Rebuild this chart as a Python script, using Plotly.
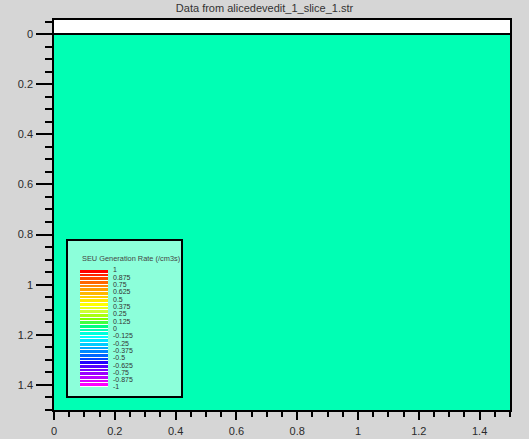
import plotly.graph_objects as go

# ---- data ----
title_text = "Data from alicedevedit_1_slice_1.str"
x_edges = [0.0, 1.5]          # structure extent (microns)
y_edges = [0.0, 1.5]
seu_rate = [[0.0]]            # SEU generation rate is zero everywhere

legend_title = "SEU Generation Rate (/cm3s)"
legend_levels = [1, 0.875, 0.75, 0.625, 0.5, 0.375, 0.25, 0.125, 0,
                 -0.125, -0.25, -0.375, -0.5, -0.625, -0.75, -0.875, -1]
legend_labels = ["1", "0.875", "0.75", "0.625", "0.5", "0.375", "0.25", "0.125", "0",
                 "-0.125", "-0.25", "-0.375", "-0.5", "-0.625", "-0.75", "-0.875", "-1"]
swatch_colors = ["#FF0000", "#FF2200", "#FF4400", "#FF6600", "#FF8800", "#FF9F00",
                 "#FFB800", "#FFCF00", "#FFE800", "#FFFF00", "#E8FF1A", "#CCFF33",
                 "#A8FF10", "#80FF00", "#40FF40", "#00FF80", "#00FFB4", "#00FFDC",
                 "#00FFFF", "#00E6FF", "#00CCFF", "#00AAFF", "#0088FF", "#0066FF",
                 "#0044FF", "#2200FF", "#5500FF", "#7700FF", "#9900FF", "#BB00FF",
                 "#DD00FF", "#FF00FF"]

MINT = "#00FFB4"
LEG_BG = "#8CFFDA"

# swatch edges: two bars between each pair of levels
sw_edges = []
for a, b in zip(legend_levels[:-1], legend_levels[1:]):
    sw_edges += [a, (a + b) / 2]
sw_edges.append(legend_levels[-1])
sw_z = [[i + 0.5] for i in range(len(swatch_colors))]
n = len(swatch_colors)
sw_scale = []
for i, c in enumerate(swatch_colors):
    sw_scale.append([i / n, c])
    sw_scale.append([(i + 1) / n, c])

fig = go.Figure()

# main field
fig.add_trace(go.Heatmap(x=x_edges, y=y_edges, z=seu_rate, zmin=-1, zmax=1,
                         colorscale=[[0, MINT], [1, MINT]], showscale=False,
                         hoverinfo="skip", xaxis="x", yaxis="y"))
# legend box background
fig.add_trace(go.Heatmap(x=[0, 1], y=[0, 1], z=[[0]], colorscale=[[0, LEG_BG], [1, LEG_BG]],
                         showscale=False, hoverinfo="skip", xaxis="x2", yaxis="y2"))
# legend swatches
fig.add_trace(go.Heatmap(x=[0, 1], y=sw_edges, z=sw_z, zmin=0, zmax=n,
                         colorscale=sw_scale, showscale=False, ygap=1,
                         hoverinfo="skip", xaxis="x3", yaxis="y3"))

W, H = 529, 439
L, R, T, B = 54, 19, 20, 29
pw, ph = W - L - R, H - T - B

def px_x(v):
    return (v - L) / pw

def px_y(v):
    return (H - B - v) / ph

tickfont = dict(family="Liberation Sans, Arial, sans-serif", size=11, color="#2a2a2a")

fig.update_layout(
    width=W, height=H,
    margin=dict(l=L, r=R, t=T, b=B, pad=0, autoexpand=False),
    paper_bgcolor="#D6D6D6",
    plot_bgcolor="white",
    showlegend=False,
    title=dict(text=title_text, x=0.5, xref="container", xanchor="center",
               y=1 - 8 / H, yref="container", yanchor="middle",
               font=dict(family="Liberation Sans, Arial, sans-serif", size=11, color="#333")),
    xaxis=dict(domain=[0, 1], range=[0, 1.5], showgrid=False, zeroline=False, automargin=False,
               showline=True, mirror=True, linecolor="black", linewidth=1.5,
               ticks="outside", ticklen=8, tickwidth=2, tickcolor="black",
               dtick=0.2, tick0=0, tickfont=tickfont, ticklabelstandoff=2,
               minor=dict(dtick=0.05, ticks="outside", ticklen=5, tickwidth=1.5,
                          tickcolor="black", showgrid=False)),
    yaxis=dict(domain=[0, 1], range=[1.5, -0.056], showgrid=False, zeroline=False, automargin=False,
               showline=True, mirror=True, linecolor="black", linewidth=1.5,
               ticks="outside", ticklen=16, tickwidth=2, tickcolor="black",
               dtick=0.2, tick0=0, tickfont=tickfont, ticklabelstandoff=1,
               minor=dict(dtick=0.05, ticks="outside", ticklen=7, tickwidth=1.5,
                          tickcolor="black", showgrid=False)),
    xaxis2=dict(domain=[px_x(68), px_x(181)], range=[0, 1], anchor="y2", automargin=False,
                showgrid=False, zeroline=False, showticklabels=False, ticks="",
                showline=True, mirror=True, linecolor="black", linewidth=1.5),
    yaxis2=dict(domain=[px_y(396), px_y(241)], range=[0, 1], anchor="x2", automargin=False,
                showgrid=False, zeroline=False, showticklabels=False, ticks="",
                showline=True, mirror=True, linecolor="black", linewidth=1.5),
    xaxis3=dict(domain=[px_x(80), px_x(108)], range=[0, 1], anchor="y3", automargin=False,
                showgrid=False, zeroline=False, showticklabels=False, ticks="",
                showline=False),
    yaxis3=dict(domain=[px_y(387), px_y(270)], range=[-1, 1], anchor="x3", side="right",
                showgrid=False, zeroline=False, ticks="", showline=False, automargin=False,
                tickmode="array", tickvals=legend_levels, ticktext=legend_labels,
                ticklabelstandoff=4,
                tickfont=dict(family="Liberation Sans, Arial, sans-serif", size=7, color="#333")),
    shapes=[dict(type="line", xref="x", yref="y", x0=0, x1=1.5, y0=0, y1=0,
                 line=dict(color="black", width=2), layer="above")],
    annotations=[dict(text=legend_title, xref="paper", yref="paper",
                      x=px_x(80), y=px_y(258), xanchor="left", yanchor="middle",
                      showarrow=False,
                      font=dict(family="Liberation Sans, Arial, sans-serif", size=7.4, color="#444"))],
)

fig.write_html("out.html", config={"displayModeBar": False},
               post_script="document.body.style.margin='0';document.body.style.overflow='hidden';")
